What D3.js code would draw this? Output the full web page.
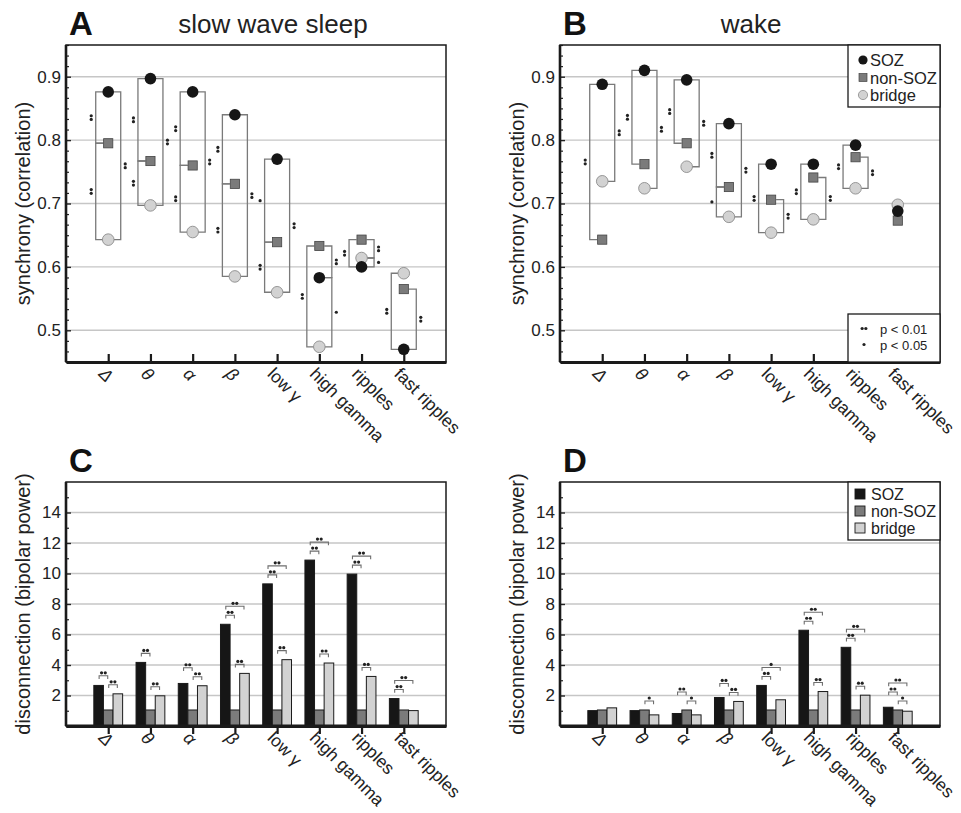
<!DOCTYPE html>
<html><head><meta charset="utf-8">
<script src="https://cdn.jsdelivr.net/npm/d3@7"></script>
<style>body{margin:0;background:#fff}</style>
</head><body>
<svg id="fig" width="961" height="813"></svg>
<script>
// ---------- DATA ----------
const bands = ["Δ","θ","α","β","low γ","high gamma","ripples","fast ripples"];
const greek = ["Δ","θ","α","β"];
const groups = ["SOZ","non-SOZ","bridge"];
const syncTicks = [0.5,0.6,0.7,0.8,0.9];
const powerTicks = [2,4,6,8,10,12,14];

// A: synchrony, slow wave sleep
const swsSOZ    = [0.876,0.897,0.876,0.840,0.770,0.583,0.600,0.470];
const swsNonSOZ = [0.795,0.767,0.760,0.731,0.639,0.633,0.643,0.565];
const swsBridge = [0.643,0.697,0.655,0.585,0.560,0.474,0.614,0.590];
// B: synchrony, wake
const wakeSOZ    = [0.888,0.910,0.895,0.826,0.762,0.762,0.792,0.688];
const wakeNonSOZ = [0.643,0.762,0.795,0.726,0.706,0.741,0.773,0.673];
const wakeBridge = [0.735,0.724,0.758,0.679,0.654,0.675,0.724,0.698];
// significance for A/B: [pair, side, number of stars]  (S=SOZ, N=non-SOZ, B=bridge)
const swsSig = [
  [["SN","L",2],["NB","L",2],["SB","R",2]],
  [["SN","L",2],["NB","L",2],["SB","R",2]],
  [["SN","L",2],["NB","L",2],["SB","R",2]],
  [["SN","L",2],["NB","L",2],["SB","R",2]],
  [["SN","L",1],["NB","L",2],["SB","R",2]],
  [["NB","L",2],["SN","R",2],["SB","R",1]],
  [["SN","L",2],["NB","R",2],["SB","R",1]],
  [["SB","L",2],["SN","R",2]]
];
const wakeSig = [
  [["SN","L",2],["SB","R",2]],
  [["SN","L",2],["SB","R",2]],
  [["SN","L",2],["SB","R",2]],
  [["SN","L",2],["NB","L",1],["SB","R",2]],
  [["SB","L",2],["NB","R",2]],
  [["SB","L",2],["NB","R",2]],
  [["SB","L",2],["NB","R",2]],
  []
];
// C: disconnection, slow wave sleep
const cSOZ    = [2.66,4.17,2.79,6.67,9.32,10.88,9.96,1.80];
const cNonSOZ = [1.05,1.05,1.05,1.05,1.05,1.05,1.05,1.05];
const cBridge = [2.11,1.98,2.64,3.45,4.35,4.13,3.25,1.01];
// D: disconnection, wake
const dSOZ    = [1.01,1.01,0.82,1.87,2.66,6.28,5.16,1.23];
const dNonSOZ = [1.05,1.05,1.05,1.05,1.05,1.05,1.05,1.05];
const dBridge = [1.19,0.73,0.73,1.61,1.72,2.26,2.02,0.97];
const cSig = [
  [["SN",2],["NB",2]],
  [["SN",2],["NB",2]],
  [["SN",2],["NB",2]],
  [["SN",2],["SB",2],["NB",2]],
  [["SN",2],["SB",2],["NB",2]],
  [["SN",2],["SB",2],["NB",2]],
  [["SN",2],["SB",2],["NB",2]],
  [["SN",2],["SB",2]]
];
const dSig = [
  [],
  [["NB",1]],
  [["SN",2],["NB",1]],
  [["SN",2],["NB",2]],
  [["SN",2],["SB",1]],
  [["SN",2],["SB",2],["NB",2]],
  [["SN",2],["SB",2],["NB",2]],
  [["SN",2],["SB",2],["NB",1]]
];

// ---------- STYLE / LAYOUT ----------
const FONT = "'Liberation Sans', Arial, Helvetica, sans-serif";
const col = {S:"#161616", N:"#7b7b7b", B:"#d2d2d2"};
const boxA = {l:66, r:446, t:45, b:362};
const boxB = {l:560, r:940, t:45, b:362};
const boxC = {l:66, r:446, t:482, b:726};
const boxD = {l:560, r:940, t:482, b:726};

const svg = d3.select("#fig");

function frame(box, y, majors, minors, fmt, ticksUp, ylabel, letter, title, titleX) {
  const g = svg.append("g");
  const x = d3.scalePoint().domain(bands).range([box.l, box.r]).padding(1);
  // grid
  g.append("g").selectAll("line").data(majors).join("line")
    .attr("x1", box.l).attr("x2", box.r)
    .attr("y1", d => y(d)).attr("y2", d => y(d))
    .attr("stroke", "#c6c6c6").attr("stroke-width", 1.4);
  // y labels
  const ya = g.append("g").attr("transform", `translate(${box.l},0)`)
    .call(d3.axisLeft(y).tickValues(majors).tickSize(0).tickPadding(5).tickFormat(fmt));
  ya.select(".domain").remove();
  ya.selectAll("text").attr("font-family", FONT).attr("font-size", 17).attr("fill", "#222");
  // minor + major ticks inside
  const ym = g.append("g").attr("transform", `translate(${box.l},0)`)
    .call(d3.axisRight(y).tickValues(minors).tickSize(3).tickFormat(""));
  ym.select(".domain").remove();
  ym.selectAll("line").attr("stroke", "#222").attr("stroke-width", 1.2);
  const yM = g.append("g").attr("transform", `translate(${box.l},0)`)
    .call(d3.axisRight(y).tickValues(majors).tickSize(5).tickFormat(""));
  yM.select(".domain").remove();
  yM.selectAll("line").attr("stroke", "#222").attr("stroke-width", 1.4);
  // frame
  g.append("rect").attr("x", box.l).attr("y", box.t)
    .attr("width", box.r - box.l).attr("height", box.b - box.t)
    .attr("fill", "none").attr("stroke", "#1a1a1a").attr("stroke-width", 1.5);
  // x axis
  const xa = g.append("g").attr("transform", `translate(0,${box.b})`)
    .call(d3.axisBottom(x).tickSize(ticksUp ? -8 : 8).tickSizeOuter(0));
  xa.select(".domain").attr("stroke", "#1a1a1a").attr("stroke-width", 2.8);
  xa.selectAll(".tick line").attr("stroke", "#1a1a1a").attr("stroke-width", 2.2);
  xa.selectAll(".tick text")
    .attr("x", 0).attr("y", 0).attr("dy", null)
    .attr("transform", "translate(-11,13) rotate(45)")
    .attr("text-anchor", "start")
    .attr("font-family", FONT).attr("font-size", 17.5).attr("fill", "#222")
    .attr("font-style", d => greek.includes(d) ? "italic" : "normal");
  // left axis thick
  g.append("line").attr("x1", box.l).attr("x2", box.l).attr("y1", box.t).attr("y2", box.b)
    .attr("stroke", "#1a1a1a").attr("stroke-width", 2.6);
  // y label
  g.append("text").attr("transform", `translate(${box.l - 36},${(box.t + box.b) / 2}) rotate(-90)`)
    .attr("text-anchor", "middle").attr("font-family", FONT).attr("font-size", 20).attr("fill", "#222")
    .text(ylabel);
  // letter
  g.append("text").attr("x", box.l + 3).attr("y", box.t - 10)
    .attr("font-family", FONT).attr("font-weight", "bold").attr("font-size", 33).attr("fill", "#111")
    .text(letter);
  if (title) {
    g.append("text").attr("x", titleX).attr("y", box.t - 12).attr("text-anchor", "middle")
      .attr("font-family", FONT).attr("font-size", 26).attr("fill", "#222").text(title);
  }
  return x;
}

function dots(g, cx, cy, n, vertical) {
  for (let k = 0; k < n; k++) {
    const off = (k - (n - 1) / 2) * 3.7;
    g.append("circle")
      .attr("cx", vertical ? cx : cx + off)
      .attr("cy", vertical ? cy + off : cy)
      .attr("r", 1.6).attr("fill", "#222");
  }
}

function syncPanel(box, soz, non, bri, sig, letter, title, titleX) {
  const y = d3.scaleLinear().domain([0.45, 0.95]).range([box.b, box.t]);
  const minors = d3.range(0, 31).map(k => 0.45 + k / 60).filter(v => Math.abs(v * 10 - Math.round(v * 10)) > 1e-6);
  const x = frame(box, y, syncTicks, minors, d3.format(".1f"), true, "synchrony (correlation)", letter, title, titleX);
  const vals = {S: soz, N: non, B: bri};
  const g = svg.append("g");
  bands.forEach((b, i) => {
    const cx = x(b);
    sig[i].forEach(([pair, side, n]) => {
      const v1 = vals[pair[0]][i], v2 = vals[pair[1]][i];
      const s = side === "L" ? -1 : 1;
      const xv = cx + s * 12.5, xt = cx + s * 5;
      g.append("path")
        .attr("d", `M${xt},${y(v1)}H${xv}V${y(v2)}H${xt}`)
        .attr("fill", "none").attr("stroke", "#7a7a7a").attr("stroke-width", 1.3);
      dots(g, cx + s * 17, y((v1 + v2) / 2), n, true);
    });
  });
  const m = svg.append("g");
  m.selectAll("circle.b").data(bri).join("circle")
    .attr("cx", (d, i) => x(bands[i])).attr("cy", d => y(d)).attr("r", 5.8)
    .attr("fill", col.B).attr("stroke", "#8c8c8c").attr("stroke-width", 0.9);
  m.selectAll("rect.n").data(non).join("rect")
    .attr("x", (d, i) => x(bands[i]) - 4.6).attr("y", d => y(d) - 4.6)
    .attr("width", 9.2).attr("height", 9.2)
    .attr("fill", col.N).attr("stroke", "#444").attr("stroke-width", 0.8);
  m.selectAll("circle.s").data(soz).join("circle")
    .attr("cx", (d, i) => x(bands[i])).attr("cy", d => y(d)).attr("r", 5.8)
    .attr("fill", col.S);
  return {x, y};
}

function barPanel(box, soz, non, bri, sig, letter) {
  const y = d3.scaleLinear().domain([0, 16]).range([box.b, box.t]);
  const minors = d3.range(1, 16, 2);
  const x = frame(box, y, powerTicks, minors, d3.format("d"), false, "disconnection (bipolar power)", letter, null, 0);
  const xb = d3.scaleBand().domain(["S", "N", "B"]).range([-14.4, 14.4]);
  const vals = {S: soz, N: non, B: bri};
  const g = svg.append("g");
  ["S", "N", "B"].forEach(k => {
    g.selectAll(null).data(vals[k]).join("rect")
      .attr("x", (d, i) => x(bands[i]) + xb(k)).attr("width", xb.bandwidth())
      .attr("y", d => y(d)).attr("height", d => y(0) - y(d))
      .attr("fill", col[k]).attr("stroke", "#1a1a1a").attr("stroke-width", 1);
  });
  // redraw x axis line on top of bars
  g.append("line").attr("x1", box.l).attr("x2", box.r).attr("y1", box.b).attr("y2", box.b)
    .attr("stroke", "#1a1a1a").attr("stroke-width", 2.8);
  const order = ["NB", "SN", "SB"];
  bands.forEach((b, i) => {
    const cx = x(b);
    const placed = [];
    const comps = sig[i].slice().sort((a, c) => order.indexOf(a[0]) - order.indexOf(c[0]));
    comps.forEach(([pair, n]) => {
      const span = pair === "SB" ? ["S", "N", "B"] : pair.split("");
      let lvl = d3.min(span, k => y(vals[k][i])) - 9;
      const x1 = cx + xb(pair[0]) + xb.bandwidth() / 2;
      const x2 = cx + xb(pair[1]) + xb.bandwidth() / 2;
      placed.slice().sort((a, c) => c.y - a.y).forEach(p => {
        if (x1 <= p.x2 + 0.1 && p.x1 <= x2 + 0.1 && lvl > p.y - 9) lvl = p.y - 9;
      });
      placed.push({x1, x2, y: lvl});
      g.append("path")
        .attr("d", `M${x1 + 0.5},${lvl + 3.2}V${lvl}H${x2 - 0.5}V${lvl + 3.2}`)
        .attr("fill", "none").attr("stroke", "#6e6e6e").attr("stroke-width", 1.1);
      dots(g, (x1 + x2) / 2, lvl - 3, n, false);
    });
  });
}

// ---------- DRAW ----------
syncPanel(boxA, swsSOZ, swsNonSOZ, swsBridge, swsSig, "A", "slow wave sleep", 273);
syncPanel(boxB, wakeSOZ, wakeNonSOZ, wakeBridge, wakeSig, "B", "wake", 751);
barPanel(boxC, cSOZ, cNonSOZ, cBridge, cSig, "C");
barPanel(boxD, dSOZ, dNonSOZ, dBridge, dSig, "D");

// Legend B (markers)
const lgB = svg.append("g");
lgB.append("rect").attr("x", 848).attr("y", 45).attr("width", 92).attr("height", 62)
  .attr("fill", "#fff").attr("stroke", "#1a1a1a").attr("stroke-width", 1.3);
const legRows = d3.scalePoint().domain(groups).range([60, 95]);
lgB.append("circle").attr("cx", 863).attr("cy", legRows("SOZ")).attr("r", 4.6).attr("fill", col.S);
lgB.append("rect").attr("x", 859).attr("y", legRows("non-SOZ") - 4).attr("width", 8).attr("height", 8)
  .attr("fill", col.N).attr("stroke", "#444").attr("stroke-width", 0.7);
lgB.append("circle").attr("cx", 863).attr("cy", legRows("bridge")).attr("r", 4.6)
  .attr("fill", col.B).attr("stroke", "#8c8c8c").attr("stroke-width", 0.8);
lgB.selectAll("text").data(groups).join("text")
  .attr("x", 870).attr("y", d => legRows(d) + 6)
  .attr("font-family", FONT).attr("font-size", 16.5).attr("fill", "#222").text(d => d);

// Legend B (p values)
const pLabels = ["p < 0.01", "p < 0.05"];
const pStars = [2, 1];
const lgP = svg.append("g");
lgP.append("rect").attr("x", 848).attr("y", 314).attr("width", 92).attr("height", 48)
  .attr("fill", "#fff").attr("stroke", "#1a1a1a").attr("stroke-width", 1.3);
const pRows = d3.scalePoint().domain(pLabels).range([328.5, 344.5]);
pLabels.forEach((p, i) => dots(lgP, 864, pRows(p), pStars[i], false));
lgP.selectAll("text").data(pLabels).join("text")
  .attr("x", 880).attr("y", d => pRows(d) + 5)
  .attr("font-family", FONT).attr("font-size", 13).attr("fill", "#222").text(d => d);

// Legend D (bars)
const lgD = svg.append("g");
lgD.append("rect").attr("x", 848).attr("y", 482).attr("width", 92).attr("height", 58)
  .attr("fill", "#fff").attr("stroke", "#1a1a1a").attr("stroke-width", 1.3);
const dRows = d3.scalePoint().domain(groups).range([494, 528]);
const gk = {"SOZ": "S", "non-SOZ": "N", "bridge": "B"};
lgD.selectAll("rect.k").data(groups).join("rect")
  .attr("x", 855).attr("y", d => dRows(d) - 5).attr("width", 10).attr("height", 10)
  .attr("fill", d => col[gk[d]]).attr("stroke", "#1a1a1a").attr("stroke-width", 0.9);
lgD.selectAll("text").data(groups).join("text")
  .attr("x", 871).attr("y", d => dRows(d) + 6)
  .attr("font-family", FONT).attr("font-size", 16).attr("fill", "#222").text(d => d);
</script>
</body></html>
